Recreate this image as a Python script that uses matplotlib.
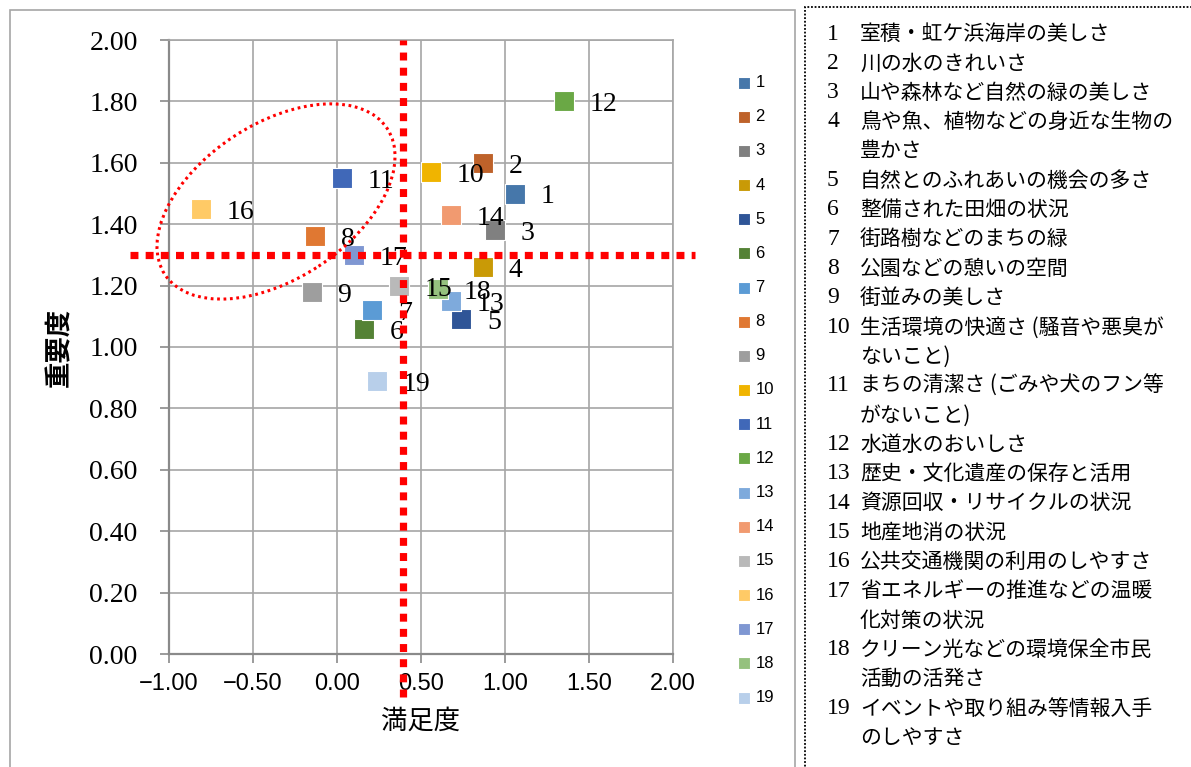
import numpy as np
import matplotlib
matplotlib.use("Agg")
import matplotlib.pyplot as plt
from matplotlib.patches import Ellipse, Rectangle
from matplotlib.transforms import ScaledTranslation
from matplotlib.ticker import FuncFormatter

# 満足度 / 重要度 for each item (1..19)
item_no = list(range(1, 20))
satisfaction = [1.06, 0.87, 0.94, 0.87, 0.74, 0.16, 0.21, -0.13, -0.15, 0.56,
                0.03, 1.35, 0.68, 0.68, 0.37, -0.81, 0.10, 0.60, 0.24]
importance = [1.50, 1.60, 1.38, 1.26, 1.09, 1.06, 1.12, 1.36, 1.18, 1.57,
              1.55, 1.80, 1.15, 1.43, 1.20, 1.45, 1.30, 1.19, 0.89]
colors = ["#4677AA", "#BE622A", "#808080", "#C99A06", "#2F5597", "#548235",
          "#5B9BD5", "#E07832", "#9E9E9E", "#F0B400", "#4068B8", "#6AA845",
          "#7EAADC", "#F19A70", "#B9B9B9", "#FFCA66", "#7F97D2", "#95C17E",
          "#B8CFEA"]
item_names = [
    "室積・虹ケ浜海岸の美しさ",
    "川の水のきれいさ",
    "山や森林など自然の緑の美しさ",
    "鳥や魚、植物などの身近な生物の\n豊かさ",
    "自然とのふれあいの機会の多さ",
    "整備された田畑の状況",
    "街路樹などのまちの緑",
    "公園などの憩いの空間",
    "街並みの美しさ",
    "生活環境の快適さ (騒音や悪臭が\nないこと)",
    "まちの清潔さ (ごみや犬のフン等\nがないこと)",
    "水道水のおいしさ",
    "歴史・文化遺産の保存と活用",
    "資源回収・リサイクルの状況",
    "地産地消の状況",
    "公共交通機関の利用のしやすさ",
    "省エネルギーの推進などの温暖\n化対策の状況",
    "クリーン光などの環境保全市民\n活動の活発さ",
    "イベントや取り組み等情報入手\nのしやすさ",
]

# dividing lines between the quadrants
ref_x = 0.39
ref_y = 1.30

W, H = 1191, 767
fig = plt.figure(figsize=(W / 100, H / 100), dpi=100)
ax = fig.add_axes([169 / W, (H - 654) / H, 504 / W, 614 / H])

serif = "Liberation Serif"
sans = ["Liberation Sans", "DejaVu Sans"]
jp = ["Noto Sans CJK JP", "DejaVu Sans"]

for i, n in enumerate(item_no):
    ax.scatter(satisfaction[i], importance[i], marker="s", s=190,
               color=colors[i], edgecolors="white", linewidths=0.8,
               zorder=3, label=str(n))

for i, n in enumerate(item_no):
    ax.annotate(str(n), (satisfaction[i], importance[i]), xytext=(18.5, -2.5),
                textcoords="offset points", ha="left", va="center",
                fontsize=20, family=serif, zorder=4)

ax.set_xlim(-1, 2)
ax.set_ylim(0, 2)
ax.set_xticks(np.arange(-1, 2.01, 0.5))
ax.set_yticks(np.arange(0, 2.01, 0.2))
ax.xaxis.set_major_formatter(FuncFormatter(lambda v, p: f"{v:.2f}".replace("-", "\u2212")))
ax.yaxis.set_major_formatter(FuncFormatter(lambda v, p: f"{v:.2f}"))
ax.grid(True, color="#a6a6a6", linewidth=1.2, zorder=0)
ax.set_axisbelow(True)
for side in ["top", "right"]:
    ax.spines[side].set_color("#a6a6a6")
    ax.spines[side].set_linewidth(1.2)
for side in ["left", "bottom"]:
    ax.spines[side].set_color("#8a8a8a")
    ax.spines[side].set_linewidth(1.6)
ax.tick_params(axis="both", length=6.5, width=1.2, color="#8a8a8a")
ax.tick_params(axis="y", pad=16)
ax.tick_params(axis="x", pad=7)
for lab in ax.get_yticklabels():
    lab.set_family(serif)
    lab.set_fontsize(20)
for lab in ax.get_xticklabels():
    lab.set_family(sans)
    lab.set_fontsize(17)

ax.set_xlabel("満足度", family=jp, fontsize=19)
ax.xaxis.set_label_coords(0.5, -0.088)
ax.set_ylabel("重要度", family=jp, fontsize=19, fontweight="bold")
ax.yaxis.set_label_coords(-0.19, 0.5)

# red dotted reference lines, running past the plot area
ax.plot([ref_x, ref_x], [-0.14, 2.0], color="#ff0000", lw=5.2,
        linestyle=(0, (1.1, 1.0)), dash_capstyle="butt", clip_on=False, zorder=6)
ax.plot([-1.23, 2.13], [ref_y, ref_y], color="#ff0000", lw=5.2,
        linestyle=(0, (1.1, 1.0)), dash_capstyle="butt", clip_on=False, zorder=6)

# dotted ellipse around the high-importance / low-satisfaction group
ell = Ellipse((0, 0), width=2.66, height=1.55, angle=33.3, fill=False,
              edgecolor="#ff0000", linewidth=2.2, linestyle=(0, (0.9, 1.2)),
              transform=fig.dpi_scale_trans + ScaledTranslation(-0.363, 1.474, ax.transData),
              clip_on=False, zorder=6)
ax.add_patch(ell)

handles, labels = ax.get_legend_handles_labels()
fig.legend(handles, labels, loc="upper left",
           bbox_to_anchor=(737 / W, 1 - 75 / H), bbox_transform=fig.transFigure,
           frameon=False, markerscale=0.58, handlelength=0.8, handletextpad=0.3,
           borderpad=0, borderaxespad=0, labelspacing=1.15,
           prop={"family": sans, "size": 12})

# chart frame and dotted box for the item list
fig.add_artist(Rectangle((10 / W, -0.05), 785 / W, 1.05 - 10 / H,
                         transform=fig.transFigure, fill=False,
                         edgecolor="#a6a6a6", linewidth=1.2))
fig.add_artist(Rectangle((805 / W, -0.05), 400 / W, 1.05 - 7 / H,
                         transform=fig.transFigure, fill=False,
                         edgecolor="black", linewidth=1.3, linestyle=(0, (1, 1))))

row = 0
for n, name in zip(item_no, item_names):
    y = 34 + row * 29.33
    fig.text(827 / W, 1 - y / H, str(n), family=serif, fontsize=17,
             ha="left", va="center")
    for part in name.split("\n"):
        y = 34 + row * 29.33
        fig.text(860 / W, 1 - y / H, part, family=jp, fontsize=15,
                 ha="left", va="center")
        row += 1

fig.savefig("out.png", dpi=100)
